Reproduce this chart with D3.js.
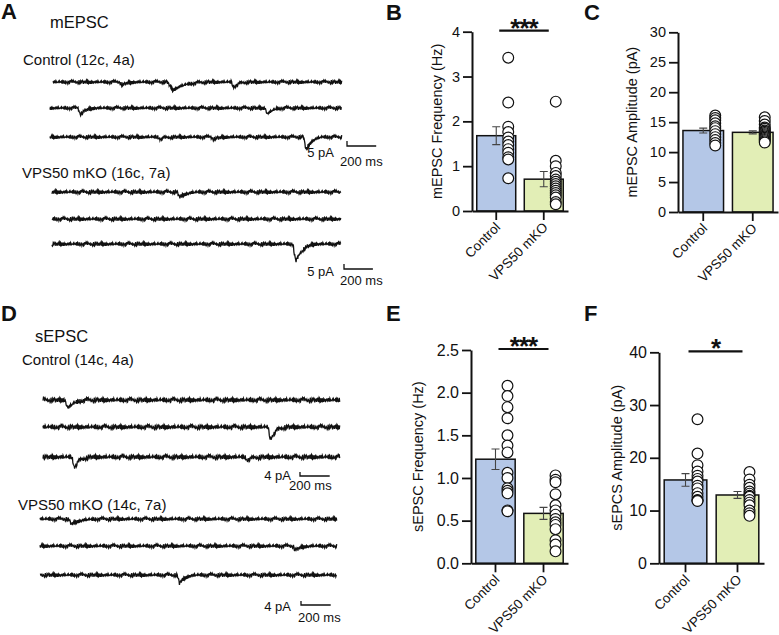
<!DOCTYPE html>
<html>
<head>
<meta charset="utf-8">
<script src="https://cdn.jsdelivr.net/npm/d3@7"></script>
<style>
  body { margin: 0; background: #fff; }
  text { font-family: "Liberation Sans", Arial, sans-serif; fill: #111; }
</style>
</head>
<body>
<div id="chart"></div>
<script>
// datos
var grupos = ["Control", "VPS50 mKO"];
var colores = ["#b4c7e7", "#e2eeb6"];

var mFreqCtrl = [3.42, 2.42, 1.88, 1.76, 1.64, 1.55, 1.47, 1.38, 1.30, 1.20, 1.15, 0.73],
    mFreqKO = [2.44, 1.12, 1.00, 0.85, 0.78, 0.70, 0.65, 0.60, 0.55, 0.50, 0.45, 0.40, 0.35, 0.30, 0.20, 0.15],
    mFreqMedia = [1.68, 0.71],
    mFreqSem = [0.20, 0.17];

var mAmpCtrl = [16.1, 15.7, 15.3, 14.8, 14.3, 14.0, 13.5, 13.0, 12.5, 12.0, 11.5, 11.1],
    mAmpKO = [15.8, 15.2, 14.6, 14.1, 13.9, 13.6, 13.4, 13.2, 13.0, 12.8, 12.6, 12.4, 12.2, 12.0, 11.8, 11.6],
    mAmpMedia = [13.6, 13.3],
    mAmpSem = [0.4, 0.25];

var sFreqCtrl = [2.08, 1.96, 1.83, 1.70, 1.50, 1.38, 1.30, 1.06, 1.00, 0.88, 0.85, 0.82, 0.62, 0.61],
    sFreqKO = [1.03, 0.98, 0.95, 0.81, 0.68, 0.62, 0.57, 0.52, 0.48, 0.45, 0.40, 0.27, 0.22, 0.14],
    sFreqMedia = [1.22, 0.585],
    sFreqSem = [0.12, 0.07];

var sAmpCtrl = [27.3, 20.8, 18.6, 17.4, 16.6, 16.0, 15.5, 14.7, 14.2, 13.3, 12.6, 12.0, 11.9, 11.8],
    sAmpKO = [17.3, 15.9, 14.9, 14.3, 13.6, 13.2, 12.8, 12.6, 12.0, 11.5, 11.0, 10.0, 9.5, 9.0],
    sAmpMedia = [15.8, 12.95],
    sAmpSem = [1.2, 0.65];

var ticksB = [0, 1, 2, 3, 4],
    ticksC = [0, 5, 10, 15, 20, 25, 30],
    ticksE = [0, 0.5, 1, 1.5, 2, 2.5],
    ticksF = [0, 10, 20, 30, 40];

// eventos de cada barrido: [tiempo ms, amplitud pA, ancho]
var eventosMCtrl = [[[462, 3, 1], [793, 8, 2.2], [1234, 5, 1]], [[192, 6, 1], [1473, 6, 1]], [[738, 2, 1], [1103, 2, 1], [1738, 13, 1]]],
    eventosMKO = [[[865, 5, 1.2]], [], [[1668, 18, 1.2]]],
    eventosSCtrl = [[[148, 8, 1.2]], [[1515, 12, 1]], [[195, 10, 1], [1360, 3, 1]]],
    eventosSKO = [[[189, 5, 1.5]], [[1704, 4, 1]], [[923, 8, 1]]];
var formaEvento = [0, -0.55, -1, -0.85, -0.68, -0.54, -0.43, -0.34, -0.27, -0.21, -0.16, -0.12, -0.09, -0.06, -0.04, -0.02, 0];
var ruido = [0.4, -0.6, 0.9, -0.3, 0.1, -1.0, 0.7, -0.2, 0.5, -0.8, 1.1, -0.4, 0.2, -0.9, 0.6, 0.0, -0.5, 0.8, -1.1, 0.3,
             0.7, -0.6, 0.1, -0.2, 0.9, -0.7, 0.4, -1.0, 0.6, -0.1, 0.2, -0.5, 1.0, -0.8, 0.3, 0.5, -0.3, -0.9, 0.8, -0.4,
             0.0, 0.6, -0.7, 0.9, -0.2, 0.3, -1.1, 0.5, -0.6, 0.7, 0.1, -0.3, 0.4, -0.8, 1.0, -0.5, 0.2, -0.9, 0.6, -0.1,
             0.8, -0.6, 0.3, -0.4, 0.9, -1.0, 0.1, 0.5, -0.7, 0.2, -0.3, 0.7, -0.8, 0.4, -0.2, 1.1, -0.6, 0.0, -0.5, 0.6,
             -0.9, 0.3, 0.8, -0.4, 0.1, -0.7, 0.5, -0.1, 0.9, -1.0, 0.2, 0.4, -0.6, 0.7, -0.3, 0.6, -0.8];

var chartWidth = 779, chartHeight = 635;

var svg = d3.select("#chart").append("svg")
            .attr("width", chartWidth)
            .attr("height", chartHeight);

// letras de panel
[["A", 1, 19], ["B", 386, 20], ["C", 584, 20], ["D", 1, 321], ["E", 386, 321], ["F", 584, 321]].forEach(function(l) {
    svg.append("text").attr("x", l[1]).attr("y", l[2])
       .style("font-size", "22px").style("font-weight", "bold")
       .text(l[0]);
});

function texto(t, x, y, size) {
    return svg.append("text").attr("x", x).attr("y", y).style("font-size", size + "px").text(t);
}

texto("mEPSC", 50, 28, 16.5);
texto("Control (12c, 4a)", 23, 65, 15);
texto("VPS50 mKO (16c, 7a)", 22, 178, 15);
texto("sEPSC", 35, 342, 16.5);
texto("Control (14c, 4a)", 22, 365, 15);
texto("VPS50 mKO (14c, 7a)", 18, 510, 15);

// registros
function barrido(eventos, x0, x1, y0, escalaRuido, desfase) {
    var x = d3.scaleLinear().domain([0, 2000]).range([x0, x1]),
        y = d3.scaleLinear().domain([-10, 10]).range([y0 + 10, y0 - 10]);
    var pts = d3.range(0, 2001, 3).map(function(t, i) {
        var v = ruido[(i * 7 + desfase) % ruido.length] * escalaRuido;
        eventos.forEach(function(e) {
            var k = (t - e[0]) / (8 * e[2]);
            if (k >= 0 && k < formaEvento.length - 1) {
                var j = Math.floor(k), f = k - j;
                v += e[1] * (formaEvento[j] * (1 - f) + formaEvento[j + 1] * f);
            }
        });
        return [t, v];
    });
    svg.append("path")
       .datum(pts)
       .attr("d", d3.line().x(d => x(d[0])).y(d => y(d[1])))
       .attr("fill", "none")
       .attr("stroke", "#111")
       .attr("stroke-width", 1.3);
    return {x: x, y: y};
}

function escalaBarra(esc, xb, yb, pA, tx, ty, tx2, ty2) {
    var largo = esc.x(200) - esc.x(0),
        alto = esc.y(0) - esc.y(pA);
    svg.append("path")
       .attr("d", "M" + xb + "," + (yb - alto) + "V" + yb + "H" + (xb + largo))
       .attr("fill", "none").attr("stroke", "#111").attr("stroke-width", 1.3);
    texto(pA + " pA", tx, ty, 13).attr("text-anchor", "end");
    texto("200 ms", tx2, ty2, 13);
}

var sA1 = [82, 108, 137], sA2 = [192, 219, 244], sD1 = [400, 427, 457], sD2 = [519, 546, 575];
var e;
eventosMCtrl.forEach(function(ev, i) { e = barrido(ev, i === 0 ? 53 : 50, 342, sA1[i], 1.8, i * 13); });
escalaBarra(e, 347, 146, 5, 334, 157, 340, 166);
eventosMKO.forEach(function(ev, i) { e = barrido(ev, 52, 341, sA2[i], 1.9, i * 17 + 5); });
escalaBarra(e, 344, 269, 5, 334, 276, 340, 285);
eventosSCtrl.forEach(function(ev, i) { e = barrido(ev, 43, 340, sD1[i], 2.3, i * 11 + 3); });
escalaBarra(e, 300, 476, 4, 291, 480, 289, 490);
eventosSKO.forEach(function(ev, i) { e = barrido(ev, 40, 337, sD2[i], 1.9, i * 19 + 7); });
escalaBarra(e, 301, 605, 4, 291, 611, 298, 622);

// paneles de barras
function panelBarras(cfg) {
    var y = d3.scaleLinear().domain(cfg.dominio).range([cfg.y0, cfg.yTop]),
        x = d3.scaleBand().domain(grupos).range([cfg.x0, cfg.x1]).paddingInner(0.18).paddingOuter(0.1),
        g = svg.append("g");

    g.selectAll("rect").data(grupos).enter().append("rect")
     .attr("x", d => x(d))
     .attr("y", (d, i) => y(cfg.media[i]))
     .attr("width", x.bandwidth())
     .attr("height", (d, i) => cfg.y0 - y(cfg.media[i]))
     .attr("fill", (d, i) => colores[i])
     .attr("stroke", "#111").attr("stroke-width", 1.5);

    // barras de error
    grupos.forEach(function(d, i) {
        var cx = x(d) + x.bandwidth() / 2,
            a = y(cfg.media[i] + cfg.sem[i]), b = y(cfg.media[i] - cfg.sem[i]);
        g.append("path")
         .attr("d", "M" + (cx - 4) + "," + a + "H" + (cx + 4) + "M" + cx + "," + a + "V" + b + "M" + (cx - 4) + "," + b + "H" + (cx + 4))
         .attr("stroke", "#444").attr("stroke-width", 1.1).attr("fill", "none");
    });

    cfg.puntos.forEach(function(serie, i) {
        g.selectAll(null).data(serie).enter().append("circle")
         .attr("cx", x(grupos[i]) + x.bandwidth() / 2 + 12)
         .attr("cy", d => y(d))
         .attr("r", 5.4)
         .attr("fill", "#fff")
         .attr("stroke", "#111").attr("stroke-width", 1.2);
    });

    var yAxis = d3.axisLeft(y).tickValues(cfg.ticks).tickSize(9).tickSizeOuter(0).tickPadding(3).tickFormat(cfg.formato),
        xAxis = d3.axisBottom(x).tickSize(9).tickSizeOuter(0);

    var gy = g.append("g").attr("transform", "translate(" + cfg.x0 + ",0)").call(yAxis);
    var gx = g.append("g").attr("transform", "translate(0," + cfg.y0 + ")").call(xAxis);
    gx.selectAll("text").remove();
    g.selectAll(".domain").attr("stroke", "#111").attr("stroke-width", 2);
    g.selectAll(".tick line").attr("stroke", "#111").attr("stroke-width", 1.8);
    gy.selectAll("text").style("font-size", cfg.fuente + "px").style("font-family", "Liberation Sans, Arial, sans-serif").attr("fill", "#111");

    g.selectAll(".cat").data(grupos).enter().append("text")
     .attr("class", "cat")
     .attr("transform", d => "translate(" + (x(d) + x.bandwidth() / 2 + 5) + "," + (cfg.y0 + 17) + ") rotate(-45)")
     .attr("text-anchor", "end")
     .style("font-size", "13.5px")
     .text(d => d);

    g.append("text")
     .attr("transform", "translate(" + cfg.xLabel + "," + (cfg.y0 + cfg.yTop) / 2 + ") rotate(-90)")
     .attr("text-anchor", "middle")
     .style("font-size", "14.5px")
     .text(cfg.etiqueta);

    if (cfg.sig) {
        var c0 = x(grupos[0]) + x.bandwidth() / 2 + 3,
            c1 = x(grupos[1]) + x.bandwidth() / 2 + 5;
        g.append("line").attr("x1", c0).attr("x2", c1).attr("y1", cfg.yTop - 1).attr("y2", cfg.yTop - 1)
         .attr("stroke", "#111").attr("stroke-width", 2.2);
        g.append("text").attr("x", (c0 + c1) / 2).attr("y", cfg.yTop + 5)
         .attr("text-anchor", "middle")
         .style("font-size", "26px").style("font-weight", "bold").style("letter-spacing", "-1px")
         .text(cfg.sig);
    }
}

panelBarras({dominio: [0, 4], y0: 211, yTop: 31.7, x0: 472, x1: 568, media: mFreqMedia, sem: mFreqSem,
             puntos: [mFreqCtrl, mFreqKO], ticks: ticksB, formato: d3.format("d"), fuente: 14.5,
             xLabel: 442, etiqueta: "mEPSC Frequency (Hz)", sig: "***"});
panelBarras({dominio: [0, 30], y0: 212, yTop: 32.3, x0: 678, x1: 778, media: mAmpMedia, sem: mAmpSem,
             puntos: [mAmpCtrl, mAmpKO], ticks: ticksC, formato: d3.format("d"), fuente: 14.5,
             xLabel: 637, etiqueta: "mEPSC Amplitude (pA)", sig: null});
panelBarras({dominio: [0, 2.5], y0: 563.3, yTop: 350, x0: 471, x1: 568, media: sFreqMedia, sem: sFreqSem,
             puntos: [sFreqCtrl, sFreqKO], ticks: ticksE, formato: d3.format(".1f"), fuente: 16,
             xLabel: 423, etiqueta: "sEPSC Frequency (Hz)", sig: "***"});
panelBarras({dominio: [0, 40], y0: 563.3, yTop: 352.3, x0: 659, x1: 764, media: sAmpMedia, sem: sAmpSem,
             puntos: [sAmpCtrl, sAmpKO], ticks: ticksF, formato: d3.format("d"), fuente: 16,
             xLabel: 622, etiqueta: "sEPCS Amplitude (pA)", sig: "*"});
</script>
</body>
</html>
